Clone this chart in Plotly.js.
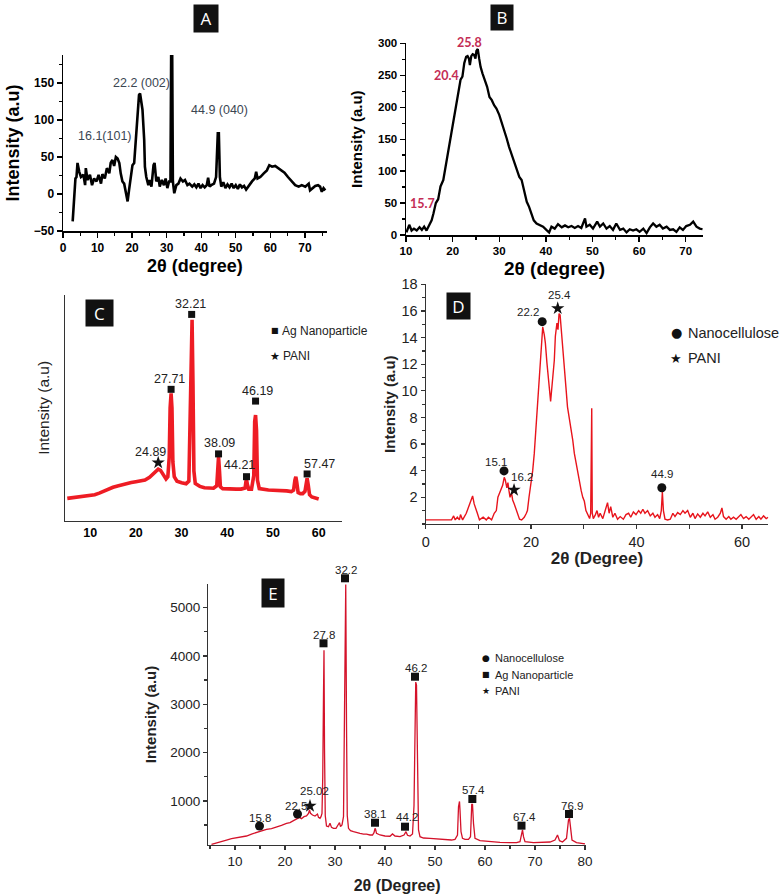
<!DOCTYPE html>
<html><head><meta charset="utf-8">
<script src="https://cdn.plot.ly/plotly-3.0.1.min.js"></script>
<style>html,body{margin:0;padding:0;background:#fff}#chart{width:782px;height:896px}</style>
</head><body><div id="chart"></div>
<script>
// ---------- Panel A (nanocellulose) ----------
const aX = [2.8,3.3,3.6,3.9,4.2,4.7,5.2,5.9,6.4,6.6,
  7.1,7.8,8.4,9.0,9.7,10.3,11.0,11.4,12.1,12.7,
  13.4,13.8,14.3,14.8,15.3,15.8,16.3,16.7,17.2,17.7,
  18.2,18.7,19.1,19.6,20.1,20.6,21.1,21.5,22.0,22.3,
  22.7,23.0,23.5,23.7,24.1,24.7,25.1,25.6,26.2,26.5,
  27.0,27.6,28.0,28.6,29.2,29.7,30.2,30.7,31.1,31.3,
  31.6,31.8,32.2,32.8,33.4,34.0,34.7,35.3,36.0,36.6,
  37.4,38.0,38.6,39.2,39.8,40.4,41.0,41.6,42.0,42.4,
  42.9,43.7,44.3,44.8,45.1,45.4,45.8,46.4,47.0,47.6,
  48.2,48.8,49.4,50.0,50.6,51.2,51.8,52.4,53.0,53.8,
  54.7,55.5,55.9,56.3,57.1,58.1,59.0,59.7,60.5,61.4,
  62.4,63.2,64.1,65.1,65.8,66.4,67.2,68.2,69.1,70.1,
  71.1,71.5,72.2,73.0,73.8,74.4,74.9,75.4,75.9];
const aY = [-37,-8,21,23,42,30,23,26,12,35,
  19,26,12,21,17,26,14,27,21,35,
  28,42,46,38,50,48,42,28,17,14,
  3,-10,5,26,39,42,71,105,134,136,
  121,114,73,37,23,12,19,10,39,42,
  17,23,10,19,12,21,8,17,17,190,
  190,17,1,12,14,21,17,19,12,14,
  10,13,9,14,8,12,9,12,22,10,
  12,14,23,82,82,23,10,16,8,13,
  9,14,8,12,7,13,9,11,6,12,
  17,21,30,21,23,28,32,39,37,38,
  35,32,29,23,19,15,12,10,12,10,
  14,5,8,11,12,10,3,8,5];
const aLabels = ['16.1(101)','22.2 (002)','44.9 (040)'];
const aLabelX = [12.1,22.6,45.4];
const aLabelY = [78,150,113];

// ---------- Panel B (PANI) ----------
const bX = [10.1,10.7,11.2,11.7,12.3,12.9,13.4,13.9,14.4,15.0,
  15.5,15.9,16.4,16.9,17.4,18.0,18.5,19.1,19.6,20.1,
  20.7,21.2,21.7,22.1,22.5,22.9,23.2,23.5,23.7,24.0,
  24.3,24.6,24.9,25.1,25.4,25.7,26.0,26.4,26.9,27.4,
  27.9,28.4,28.9,29.4,30.0,30.5,31.0,31.6,32.1,32.6,
  33.1,33.7,34.3,34.8,35.3,35.9,36.4,36.9,37.4,38.0,
  38.7,39.4,40.1,40.7,41.2,41.9,42.6,43.4,44.1,44.8,
  45.5,46.2,46.9,47.6,48.4,48.7,49.4,50.1,51.0,51.6,
  52.3,53.0,53.7,54.4,55.1,55.9,56.6,57.3,58.0,58.7,
  59.4,60.1,60.9,61.6,62.3,63.0,63.7,64.4,65.1,65.9,
  66.6,67.3,68.0,68.7,69.4,70.1,70.9,71.6,72.3,73.0,
  73.6];
const bY = [4,16,7,10,7,12,8,13,7,17,
  23,34,50,56,76,86,107,133,153,175,
  201,222,243,248,269,279,280,276,266,280,
  283,282,276,288,291,276,263,253,243,232,
  216,211,203,198,188,177,167,151,138,128,
  116,104,91,86,70,52,44,34,23,18,
  16,13,8,4,13,10,17,12,15,12,
  14,11,14,11,26,13,16,10,21,13,
  18,10,14,8,18,8,10,4,9,7,
  9,5,10,3,12,18,13,16,10,13,
  8,9,5,12,8,14,16,21,13,10,
  9];
const bLabels = ['15.7','20.4','25.8'];
const bLabelX = [13.6,18.7,23.7];
const bLabelY = [50,249,302];

// ---------- Panel C (PANI / Ag) ----------
const cX = [5,6,7,8,9,10,11,12,13,14,
  15,16,17,18,19,20,21,22,23,24,
  24.5,24.9,25.4,26.0,26.6,27.0,27.3,27.5,27.71,27.9,
  28.1,28.4,29,30,31,31.6,31.9,32.1,32.3,32.5,
  32.7,33,34,35,36,37,37.7,37.9,38.09,38.3,
  38.5,39,40,41,42,43,43.9,44.1,44.21,44.4,
  44.7,45.3,45.8,46.0,46.19,46.4,46.6,47,48,49,
  50,51,52,53,54,54.5,54.8,55.0,55.2,55.5,
  56,56.5,57.0,57.3,57.47,57.7,58,58.5,59,59.5,
  60];
const cY = [9.9,10.1,10.3,10.6,10.8,11.0,11.5,12.2,13.2,14.2,
  14.8,15.4,16.0,16.5,16.9,17.3,17.6,18.0,19.2,21.0,
  22.0,22.8,22.3,20.5,18.5,19.5,28,50,56.4,50,
  26,19.5,17.5,16.8,16.4,17.5,50,88,89,60,
  22,16.5,15.2,14.6,14.3,14.4,15.5,24,28.4,22,
  15.0,14.2,14.0,13.9,14.0,14.0,14.5,17.5,18.3,16,
  14.0,14.0,20,44,46.8,40,18,14.2,13.8,13.6,
  13.5,13.5,13.4,13.2,12.9,13.5,18,19.5,17,12.5,
  12.0,12.0,13.0,17.5,18.8,16,11.5,10.5,10.2,10.0,
  9.6];
const cAgLabels = ['27.71','32.21','38.09','44.21','46.19','57.47'];
const cAgX = [27.71,32.21,38.09,44.21,46.19,57.47];
const cAgY = [58.2,91.4,29.6,19.5,53.0,20.7];
const cPaniLabels = ['24.89'];
const cPaniX = [24.89];
const cPaniY = [25.7];

// ---------- Panel D (nanocellulose / PANI) ----------
const dX = [0,4.9,5.3,5.6,6.0,6.4,6.6,7.0,7.7,8.1,
  8.4,8.7,8.9,9.2,9.5,9.8,10.2,10.9,11.5,11.9,
  12.5,13.0,13.4,13.7,14.0,14.3,14.6,14.9,15.1,15.4,
  15.6,15.8,16.0,16.3,16.5,16.8,17.2,17.5,17.8,18.2,
  18.7,19.1,19.3,19.6,19.9,20.3,20.6,20.9,21.2,21.5,
  21.7,22.0,22.2,22.5,22.7,23.0,23.2,23.5,23.7,23.9,
  24.1,24.4,24.6,24.9,25.1,25.3,25.5,25.8,26.0,26.3,
  26.6,26.9,27.2,27.5,27.9,28.2,28.5,28.9,29.2,29.5,
  29.8,30.1,30.4,30.8,31.1,31.3,31.5,31.6,31.8,32.2,
  32.5,32.8,33.1,33.6,34.1,34.5,34.8,35.1,35.5,35.9,
  36.4,36.9,37.5,38.0,38.5,38.9,39.4,39.9,40.4,40.8,
  41.2,41.6,42.1,42.6,43.1,43.5,44.0,44.4,44.7,44.9,
  45.1,45.4,45.9,46.4,46.9,47.3,47.8,48.3,48.8,49.2,
  49.7,50.2,50.7,51.1,51.6,52.1,52.6,53.0,53.5,54.0,
  54.5,54.9,55.4,55.9,56.2,56.5,57.0,57.5,57.9,58.4,
  58.9,59.4,59.8,60.3,60.8,61.3,61.7,62.2,62.7,63.2,
  63.6,64.1,64.6,65.0];
const dY = [0.3,0.3,0.6,0.3,0.5,0.3,0.7,0.3,0.8,1.2,
  1.5,1.8,2.1,1.5,1.2,0.8,0.3,0.5,0.3,0.5,
  0.3,0.8,1.0,2.0,2.3,2.6,2.9,3.5,3.3,2.7,
  3.1,2.5,2.0,2.3,1.8,1.5,1.0,0.8,0.35,0.3,
  0.5,0.8,1.0,2.0,2.8,4.0,5.3,7.1,8.8,10.8,
  11.8,13.3,14.8,14.2,13.6,12.1,11.1,9.7,9.2,10.1,
  10.8,12.3,14.1,15.1,14.6,15.8,15.7,14.1,12.8,11.8,
  10.3,8.8,8.1,7.1,6.3,5.3,4.6,3.8,3.0,2.5,
  2.0,1.7,1.0,0.7,0.4,0.8,8.7,0.8,0.4,0.7,
  1.0,0.5,0.8,0.4,1.0,1.6,0.8,1.3,0.5,0.8,
  0.35,0.55,0.35,0.7,0.8,0.5,0.9,0.7,1.0,0.8,
  1.1,0.8,1.0,0.6,0.8,0.5,0.7,0.4,1.0,2.4,
  1.0,0.35,0.3,0.35,0.8,0.55,0.85,0.7,1.0,0.8,
  1.0,0.5,0.8,0.4,0.75,0.5,0.8,0.6,0.9,0.5,
  0.7,0.35,0.5,0.8,1.2,0.55,0.35,0.55,0.35,0.5,
  0.35,0.55,0.7,0.4,0.55,0.35,0.5,0.7,0.35,0.55,
  0.35,0.6,0.4,0.5];
const dNanoLabels = ['15.1','22.2','44.9'];
const dNanoX = [14.86,22.1,44.8];
const dNanoY = [3.98,15.2,2.72];
const dPaniLabels = ['16.2','25.4'];
const dPaniX = [16.76,25.05];
const dPaniY = [2.55,16.2];

// ---------- Panel E (composite) ----------
const eX = [5.3,6.3,7.3,8.3,9.3,10.3,11.3,12.3,13.3,14.3,
  15.3,16.3,17.3,18.3,19.3,20.3,21.0,21.7,22.3,22.9,
  23.3,23.8,24.3,24.7,24.9,25.1,25.5,26.0,26.5,26.7,
  27.0,27.2,27.4,27.55,27.7,27.8,27.9,28.05,28.3,28.7,
  29.0,29.3,29.7,30.2,30.6,30.9,31.1,31.4,31.7,31.9,
  32.05,32.15,32.3,32.45,32.7,33.1,33.7,34.3,35.0,35.7,
  36.3,37.0,37.5,37.8,38.0,38.1,38.3,39.0,40.0,41.0,
  41.5,42.0,43.0,43.8,44.2,44.5,45.0,45.5,45.8,46.0,
  46.15,46.3,46.5,46.7,47.0,47.7,49.0,50.3,52.3,53.3,
  54.0,54.5,54.7,54.9,55.0,55.2,55.5,56.0,56.7,57.1,
  57.35,57.5,57.7,58.0,59.0,61.0,63.0,65.0,66.3,67.0,
  67.3,67.5,67.7,68.0,69.7,71.7,73.0,74.0,74.5,74.9,
  75.5,76.3,76.7,76.9,77.1,77.4,78.3,79.3,80.0];
const eY = [103,137,158,192,220,234,248,275,316,351,
  385,413,427,454,496,537,551,592,620,661,
  634,675,689,744,813,744,710,689,730,661,
  641,675,744,1500,3200,4120,2100,700,482,468,
  537,454,434,434,503,551,468,503,675,2600,
  5470,5480,2600,700,434,385,365,344,330,316,
  316,296,296,344,434,420,330,296,275,270,
  317,275,261,296,365,290,275,316,900,2500,
  3460,3400,1500,400,261,234,227,213,206,192,
  206,296,881,990,812,365,227,206,206,261,
  930,930,537,227,179,158,144,137,137,158,
  275,400,261,158,137,137,151,192,296,179,
  151,227,606,640,433,192,137,123,110];
const eAgLabels = ['27.8','32.2','38.1','44.2','46.2','57.4','67.4','76.9'];
const eAgX = [27.7,32.0,38.0,44.0,46.0,57.47,67.3,76.8];
const eAgY = [4262,5607,550,468,3571,1041,489,730];
const eNanoLabels = ['15.8','22.5'];
const eNanoX = [14.9,22.5];
const eNanoY = [482,730];
const ePaniLabels = ['25.02'];
const ePaniX = [25.0];
const ePaniY = [896];

// ---------- layout helpers ----------
const W = 782, H = 896;
const PX = v => v / W, PY = v => 1 - v / H;
const ARIAL = 'Liberation Sans, Arial, sans-serif';
const boldF = (s, c) => ({family: ARIAL, size: s, color: c || '#000', weight: 700});
const normF = (s, c) => ({family: ARIAL, size: s, color: c || '#111'});

function axis(o) {
  return Object.assign({
    showgrid: false, zeroline: false, showline: true, linecolor: '#000', linewidth: 1.5,
    ticks: 'outside', ticklen: 5, tickwidth: 1.3, tickcolor: '#000', fixedrange: true
  }, o);
}

// Panel E: visible axis range, plus a hidden twin axis (same scale, taller) for peak marks above the frame
const E_BOTTOM = 845, E_TOP = 584, E_MIN = 89, E_MAX = 5489;
const E_PXPU = (E_BOTTOM - E_TOP) / (E_MAX - E_MIN);
const E_MAX2 = 5700, E_TOP2 = E_BOTTOM - (E_MAX2 - E_MIN) * E_PXPU;

const traces = [
  {x: aX, y: aY, xaxis: 'x', yaxis: 'y', mode: 'lines', line: {color: '#000', width: 2.6}, name: 'A'},
  {x: bX, y: bY, xaxis: 'x2', yaxis: 'y2', mode: 'lines', line: {color: '#000', width: 2.3}, name: 'B'},
  {x: cX, y: cY, xaxis: 'x3', yaxis: 'y3', mode: 'lines', line: {color: '#ee1c24', width: 3.6}, name: 'C'},
  {x: cAgX, y: cAgY, xaxis: 'x3', yaxis: 'y3', mode: 'markers', cliponaxis: false,
   marker: {symbol: 'square', size: 7, color: '#111'}, name: 'Ag Nanoparticle'},
  {x: cPaniX, y: cPaniY, xaxis: 'x3', yaxis: 'y3', mode: 'markers', cliponaxis: false,
   marker: {symbol: 'star', size: 10, color: '#111'}, name: 'PANI'},
  {x: dX, y: dY, xaxis: 'x4', yaxis: 'y4', mode: 'lines', line: {color: '#e8141c', width: 1.4}, name: 'D'},
  {x: dNanoX, y: dNanoY, xaxis: 'x4', yaxis: 'y4', mode: 'markers', cliponaxis: false,
   marker: {symbol: 'circle', size: 9, color: '#111'}, name: 'Nanocellulose'},
  {x: dPaniX, y: dPaniY, xaxis: 'x4', yaxis: 'y4', mode: 'markers', cliponaxis: false,
   marker: {symbol: 'star', size: 10, color: '#111'}, name: 'PANI'},
  {x: eX, y: eY, xaxis: 'x5', yaxis: 'y5', mode: 'lines', line: {color: '#d4122a', width: 1.3}, name: 'E'},
  {x: eAgX, y: eAgY, xaxis: 'x5', yaxis: 'y6', mode: 'markers', cliponaxis: false,
   marker: {symbol: 'square', size: 8, color: '#111'}, name: 'Ag Nanoparticle'},
  {x: eNanoX, y: eNanoY, xaxis: 'x5', yaxis: 'y6', mode: 'markers', cliponaxis: false,
   marker: {symbol: 'circle', size: 9, color: '#111'}, name: 'Nanocellulose'},
  {x: ePaniX, y: ePaniY, xaxis: 'x5', yaxis: 'y6', mode: 'markers', cliponaxis: false,
   marker: {symbol: 'star', size: 10, color: '#111'}, name: 'PANI'}
];

const ann = [];
function box(letter, cx, cy, w, h) {
  ann.push({xref: 'paper', yref: 'paper', x: PX(cx), y: PY(cy), xanchor: 'center', yanchor: 'middle',
    text: letter, showarrow: false, bgcolor: '#111', width: w, height: h, borderpad: 0,
    font: {family: 'Open Sans, sans-serif', size: 17, color: '#fff'}});
}
box('A', 206, 18.7, 24, 27);
box('B', 501.7, 17.5, 22, 25);
box('C', 99.5, 313, 27, 26);
box('D', 458.7, 306, 23, 26);
box('E', 272.8, 592.8, 22, 28);

function labels(txt, xs, ys, xr, yr, font, dx, dy) {
  txt.forEach((t, i) => ann.push({xref: xr, yref: yr, x: xs[i], y: ys[i], text: t, showarrow: false,
    xanchor: 'center', yanchor: 'middle', xshift: dx ? dx[i] : 0, yshift: dy ? dy[i] : 0, font: font}));
}
labels(aLabels, aLabelX, aLabelY, 'x', 'y', normF(12.5, '#3b4652'));
// B: labels anchored inside the axis range, nudged in pixels (25.8 sits just above the frame)
const bShiftY = bLabelY.map(v => v > 295 ? (v - 295) * (235 - 43.3) / 300 : 0);
labels(bLabels, bLabelX, bLabelY.map(v => Math.min(v, 295)), 'x2', 'y2',
  {family: 'Lato, Open Sans, sans-serif', size: 12.5, color: '#c42d55', weight: 700}, null, bShiftY);
labels(cAgLabels, cAgX, cAgY, 'x3', 'y3', normF(12.5, '#222'), [-2, -1, 1, -7, 2, 12], [10, 10, 11, 12, 10, 10]);
labels(cPaniLabels, cPaniX, cPaniY, 'x3', 'y3', normF(12.5, '#222'), [-8], [11]);
labels(dNanoLabels, dNanoX, dNanoY, 'x4', 'y4', normF(11.5, '#222'), [-8, -14, 0], [8.5, 9.5, 13.5]);
labels(dPaniLabels, dPaniX, dPaniY, 'x4', 'y4', normF(11.5, '#222'), [8, 1.5], [12.5, 13.5]);
labels(eAgLabels, eAgX, eAgY, 'x5', 'y6', normF(11.5, '#222'), [0, 1, 0, 2, 1, 1, 3, 3], [8.5, 8.5, 8.5, 9.5, 8.5, 9, 9, 8]);
labels(eNanoLabels, eNanoX, eNanoY, 'x5', 'y6', normF(11.5, '#222'), [0, -2], [8, 8]);
labels(ePaniLabels, ePaniX, ePaniY, 'x5', 'y6', normF(11.5, '#222'), [4], [15]);

function legendRow(sym, symSize, txt, sx, y, tx, fs) {
  ann.push({xref: 'paper', yref: 'paper', x: PX(sx), y: PY(y), xanchor: 'center', yanchor: 'middle',
    text: sym, showarrow: false, font: {family: 'DejaVu Sans, sans-serif', size: symSize, color: '#111'}});
  ann.push({xref: 'paper', yref: 'paper', x: PX(tx), y: PY(y), xanchor: 'left', yanchor: 'middle',
    text: txt, showarrow: false, font: normF(fs, '#222')});
}
legendRow('■', 8, 'Ag Nanoparticle', 275, 330.7, 280, 12);
legendRow('★', 11, 'PANI', 275, 356, 281, 12);
legendRow('●', 13, 'Nanocellulose', 676, 332.7, 686, 14.5);
legendRow('★', 13, 'PANI', 676, 358.3, 686, 14.5);
legendRow('●', 9, 'Nanocellulose', 486, 658, 493, 11);
legendRow('■', 8, 'Ag Nanoparticle', 486, 674.7, 493, 11);
legendRow('★', 9, 'PANI', 486, 690.7, 493, 11);

const layout = {
  width: W, height: H, margin: {l: 0, r: 0, t: 0, b: 0},
  paper_bgcolor: '#fff', plot_bgcolor: 'rgba(0,0,0,0)', showlegend: false,
  font: {family: ARIAL},
  // A
  xaxis: axis({domain: [PX(63), PX(327)], range: [0, 76.4], anchor: 'y', dtick: 10, tick0: 0,
    minor: {ticks: 'outside', dtick: 5, ticklen: 3, tickcolor: '#000'}, tickfont: boldF(12),
    title: {text: '2θ (degree)', font: boldF(18), standoff: 5}}),
  yaxis: axis({domain: [PY(231), PY(55)], range: [-50, 188], anchor: 'x', dtick: 50, tick0: 0,
    minor: {ticks: 'outside', dtick: 25, ticklen: 3, tickcolor: '#000'}, tickfont: boldF(12),
    title: {text: 'Intensity (a.u)', font: boldF(18), standoff: 9}}),
  // B
  xaxis2: axis({domain: [PX(406), PX(703)], range: [10, 73.7], anchor: 'y2', dtick: 10, tick0: 0,
    minor: {ticks: 'outside', dtick: 5, ticklen: 3, tickcolor: '#000'}, tickfont: boldF(11.5),
    title: {text: '2θ (degree)', font: boldF(19), standoff: 5}}),
  yaxis2: axis({domain: [PY(235), PY(43.3)], range: [0, 300], anchor: 'x2', dtick: 50, tick0: 0,
    minor: {ticks: 'outside', dtick: 25, ticklen: 3, tickcolor: '#000'}, tickfont: boldF(11.5),
    title: {text: 'Intensity (a.u)', font: boldF(15), standoff: 12}}),
  // C
  xaxis3: axis({domain: [PX(65), PX(342)], range: [4.5, 65.1], anchor: 'y3', dtick: 10, tick0: 0,
    ticks: '', linecolor: '#333', tickfont: boldF(12.5)}),
  yaxis3: axis({domain: [PY(520.7), PY(295)], range: [0, 100], anchor: 'x3', ticks: '', showticklabels: false,
    linecolor: '#333', title: {text: 'Intensity (a.u)', font: normF(15.5, '#222'), standoff: 10}}),
  // D
  xaxis4: axis({domain: [PX(425.7), PX(768.3)], range: [0, 65], anchor: 'y4', dtick: 20, tick0: 0,
    linecolor: '#333', tickcolor: '#333', linewidth: 1.2, ticklen: 4,
    minor: {ticks: 'outside', dtick: 10, ticklen: 4, tickcolor: '#333'}, tickfont: normF(14.5, '#222'),
    title: {text: '2θ (Degree)', font: boldF(17, '#222'), standoff: 0}}),
  yaxis4: axis({domain: [PY(523.9), PY(284.4)], range: [0, 18], anchor: 'x4', tickmode: 'array',
    tickvals: [2, 4, 6, 8, 10, 12, 14, 16, 18], linecolor: '#333', tickcolor: '#333', linewidth: 1.2, ticklen: 4,
    minor: {ticks: 'outside', dtick: 1, ticklen: 3, tickcolor: '#333'}, tickfont: normF(14.5, '#222'),
    title: {text: 'Intensity (a.u)', font: boldF(15, '#222'), standoff: 2}}),
  // E
  xaxis5: axis({domain: [PX(208.3), PX(586)], range: [4.66, 80.2], anchor: 'y5', dtick: 10, tick0: 0,
    linecolor: '#333', tickcolor: '#333', linewidth: 1.2, ticklen: 4,
    minor: {ticks: 'outside', dtick: 5, ticklen: 3, tickcolor: '#333'}, tickfont: normF(13.5, '#222'),
    title: {text: '2θ (Degree)', font: boldF(16, '#222'), standoff: 11}}),
  yaxis5: axis({domain: [PY(E_BOTTOM), PY(E_TOP)], range: [E_MIN, E_MAX], anchor: 'x5', dtick: 1000, tick0: 0,
    linecolor: '#333', tickcolor: '#333', linewidth: 1.2, ticklen: 4,
    minor: {ticks: 'outside', dtick: 500, ticklen: 3, tickcolor: '#333'}, tickfont: normF(13.5, '#222'),
    title: {text: 'Intensity (a.u)', font: boldF(15, '#222'), standoff: 10}}),
  yaxis6: {domain: [PY(E_BOTTOM), PY(E_TOP2)], range: [E_MIN, E_MAX2], anchor: 'x5', visible: false,
    showgrid: false, zeroline: false, fixedrange: true},
  annotations: ann
};

Plotly.newPlot('chart', traces, layout, {staticPlot: true, displayModeBar: false});
</script>
</body></html>
